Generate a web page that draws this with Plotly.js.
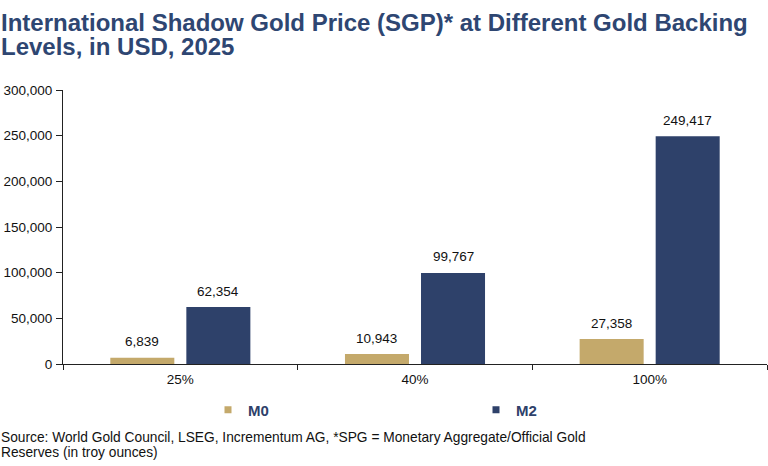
<!DOCTYPE html>
<html>
<head>
<meta charset="utf-8">
<script src="https://cdn.plot.ly/plotly-3.0.1.min.js"></script>
<style>html,body{margin:0;padding:0;background:#fff;}#chart{width:768px;height:466px;}</style>
</head>
<body>
<div id="chart"></div>
<script>
var categories = ["25%", "40%", "100%"];
var seriesNames = ["M0", "M2"];
var m0Values = [6839, 10943, 27358];
var m2Values = [62354, 99767, 249417];
var yTickValues = [0, 50000, 100000, 150000, 200000, 250000, 300000];

var titleLines = ["International Shadow Gold Price (SGP)* at Different Gold Backing", "Levels, in USD, 2025"];
var sourceLines = ["Source: World Gold Council, LSEG, Incrementum AG, *SPG = Monetary Aggregate/Official Gold", "Reserves (in troy ounces)"];

var gold = "#C4A96B";
var navy = "#2E416A";
var titleColor = "#2E4672";
var font = "Liberation Sans, Arial, sans-serif";

var W = 768, H = 466;
var M = {l: 63, r: 1, t: 89.5, b: 102};
var plotW = W - M.l - M.r, plotH = H - M.t - M.b;
function px2paperX(px) { return (px - M.l) / plotW; }
function px2paperY(py) { return (H - M.b - py) / plotH; }

var bargap = 0.352, bargroupgap = 0.158;
var catPx = plotW / categories.length;
var barShift = (1 - bargap) * catPx / 4;

var colors = [gold, navy];
var traces = [
  {type: "bar", name: seriesNames[0], x: categories, y: m0Values, marker: {color: gold}, showlegend: false, hoverinfo: "x+y"},
  {type: "bar", name: seriesNames[1], x: categories, y: m2Values, marker: {color: navy}, showlegend: false, hoverinfo: "x+y"}
];
// legend entries with small square swatches
seriesNames.forEach(function (n, i) {
  traces.push({
    type: "scatter", mode: "markers", name: n, x: [null], y: [null],
    marker: {symbol: "square", size: 7, color: colors[i]},
    showlegend: true, hoverinfo: "skip"
  });
});

var annotations = [];
// value labels above each bar, positioned via the data scales
[m0Values, m2Values].forEach(function (vals, si) {
  vals.forEach(function (v, i) {
    annotations.push({
      x: categories[i], y: v, xref: "x", yref: "y",
      text: v.toLocaleString("en-US"), showarrow: false,
      xanchor: "center", yanchor: "middle",
      xshift: (si === 0 ? -1 : 1) * barShift, yshift: 16,
      font: {family: font, size: 13.5, color: "#111"}
    });
  });
});
// title lines
[21.5, 46].forEach(function (py, i) {
  annotations.push({
    text: "<b>" + titleLines[i] + "</b>", xref: "paper", yref: "paper",
    x: px2paperX(-1), y: px2paperY(py), xanchor: "left", yanchor: "middle",
    showarrow: false, align: "left",
    font: {family: font, size: 24, color: titleColor}
  });
});
// source lines
[437.5, 452.5].forEach(function (py, i) {
  annotations.push({
    text: sourceLines[i], xref: "paper", yref: "paper",
    x: px2paperX(-1), y: px2paperY(py), xanchor: "left", yanchor: "middle",
    showarrow: false, align: "left",
    font: {family: font, size: 13.75, color: "#111"}
  });
});

var layout = {
  width: W, height: H,
  margin: {l: M.l, r: M.r, t: M.t, b: M.b, pad: 0},
  paper_bgcolor: "#fff", plot_bgcolor: "#fff",
  font: {family: font, size: 13.5, color: "#111"},
  barmode: "group",
  bargap: bargap,
  bargroupgap: bargroupgap,
  xaxis: {
    type: "category", range: [-0.5, categories.length - 0.5],
    showline: true, linecolor: "#222", linewidth: 1,
    ticks: "outside", tickson: "boundaries", ticklen: 5, tickcolor: "#222",
    ticklabelstandoff: 3,
    tickfont: {family: font, size: 13.5, color: "#111"},
    showgrid: false, zeroline: false, fixedrange: true
  },
  yaxis: {
    range: [0, 300000], tickvals: yTickValues, tickformat: ",",
    showline: true, linecolor: "#222", linewidth: 1,
    ticks: "outside", ticklen: 6, tickcolor: "#222",
    ticklabelstandoff: 1,
    tickfont: {family: font, size: 13.5, color: "#111"},
    showgrid: false, zeroline: false, fixedrange: true
  },
  showlegend: true,
  legend: {
    orientation: "h", x: px2paperX(208), xanchor: "left", y: px2paperY(410), yanchor: "middle",
    entrywidth: 223, entrywidthmode: "pixels",
    font: {family: font, size: 15, color: navy, weight: "bold"},
    bgcolor: "rgba(0,0,0,0)"
  },
  annotations: annotations
};

Plotly.newPlot("chart", traces, layout, {displayModeBar: false, staticPlot: true});
</script>
</body>
</html>
